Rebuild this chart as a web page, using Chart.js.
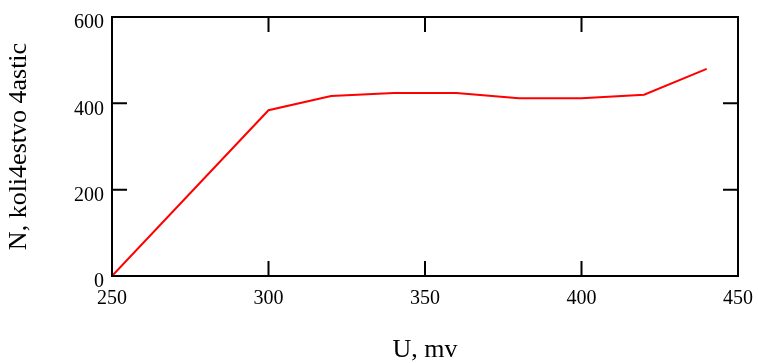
<!DOCTYPE html>
<html>
<head>
<meta charset="utf-8">
<script src="https://cdn.jsdelivr.net/npm/chart.js@4.4.1/dist/chart.umd.min.js"></script>
<style>
  body { margin: 0; background: #fff; }
  #wrap { width: 758px; height: 363px; }
</style>
</head>
<body>
<div id="wrap"><canvas id="myChart"></canvas></div>
<script>
// datos del grafico
const voltage = [250, 300, 320, 340, 360, 380, 400, 420, 440];
const counts = [0, 384, 417, 424, 424, 412, 412, 420, 480];
const xTicks = [250, 300, 350, 400, 450];
const yTicks = [0, 200, 400, 600];

const serif = 'Liberation Serif, Times New Roman, serif';

// marco y marcas hacia adentro
const boxTicks = {
    id: 'boxTicks',
    afterDraw(chart) {
        const c = chart.ctx;
        const a = chart.chartArea;
        const xs = chart.scales.x, ys = chart.scales.y;
        const len = 15;
        c.save();
        c.strokeStyle = '#000';
        c.lineWidth = 2;
        c.strokeRect(a.left, a.top, a.right - a.left, a.bottom - a.top);
        c.beginPath();
        xTicks.forEach(v => {
            const px = xs.getPixelForValue(v);
            c.moveTo(px, a.bottom); c.lineTo(px, a.bottom - len);
            c.moveTo(px, a.top); c.lineTo(px, a.top + len);
        });
        yTicks.forEach(v => {
            const py = ys.getPixelForValue(v);
            c.moveTo(a.left, py); c.lineTo(a.left + len, py);
            c.moveTo(a.right, py); c.lineTo(a.right - len, py);
        });
        c.stroke();
        c.restore();
    }
};

const ctx = document.getElementById('myChart');
new Chart(ctx, {
    type: 'line',
    data: {
        datasets: [{
            data: voltage.map((v, i) => ({ x: v, y: counts[i] })),
            borderColor: '#ff0000',
            borderWidth: 2,
            pointRadius: 0,
            tension: 0,
            fill: false
        }]
    },
    options: {
        responsive: true,
        maintainAspectRatio: false,
        animation: false,
        layout: { padding: { left: 0, right: 20, top: 17, bottom: 0 } },
        plugins: { legend: { display: false }, tooltip: { enabled: false } },
        scales: {
            x: {
                type: 'linear',
                min: 250,
                max: 450,
                afterFit: s => { s.height = 87; s.paddingLeft = 0; s.paddingRight = 0; },
                afterBuildTicks: s => { s.ticks = xTicks.map(v => ({ value: v })); },
                grid: { display: false, drawTicks: false },
                border: { display: false },
                ticks: { color: '#000', padding: 11, font: { family: serif, size: 20 } },
                title: {
                    display: true,
                    text: 'U, mv',
                    color: '#000',
                    padding: { top: 0, bottom: 0 },
                    font: { family: serif, size: 26, lineHeight: 1 }
                }
            },
            y: {
                min: 0,
                max: 600,
                afterFit: s => { s.width = 112; s.paddingTop = 0; s.paddingBottom = 0; },
                afterBuildTicks: s => { s.ticks = yTicks.map(v => ({ value: v })); },
                grid: { display: false, drawTicks: false },
                border: { display: false },
                ticks: { color: '#000', padding: 8, labelOffset: 6, font: { family: serif, size: 20 } },
                title: {
                    display: true,
                    text: 'N, koli4estvo 4astic',
                    color: '#000',
                    padding: { top: 6, bottom: 0 },
                    font: { family: serif, size: 26, lineHeight: 1 }
                }
            }
        }
    },
    plugins: [boxTicks]
});
</script>
</body>
</html>
